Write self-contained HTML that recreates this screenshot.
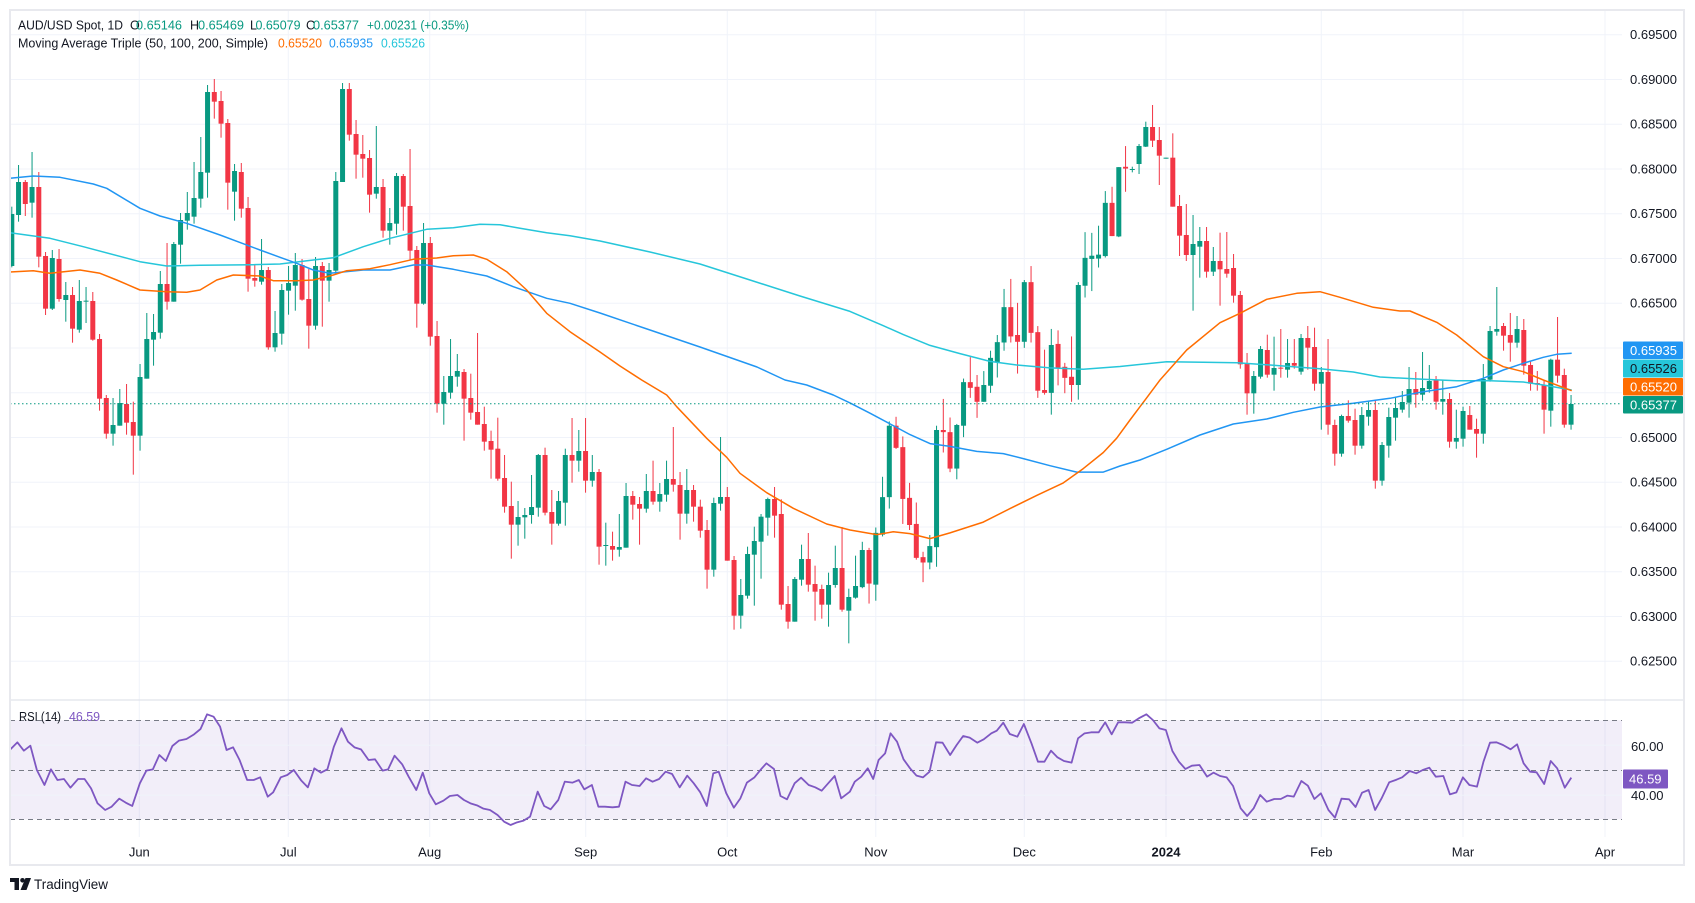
<!DOCTYPE html>
<html><head><meta charset="utf-8">
<style>
html,body{margin:0;padding:0;background:#fff;width:1695px;height:903px;overflow:hidden;}
svg{position:absolute;left:0;top:0;}
text{font-family:"Liberation Sans",Arial,sans-serif;}
</style></head><body>
<svg id="c" width="1695" height="903" viewBox="0 0 1695 903" xmlns="http://www.w3.org/2000/svg">
<defs><clipPath id="pc"><rect x="10" y="10" width="1612" height="690"/></clipPath>
<clipPath id="rc"><rect x="10" y="700" width="1612" height="140"/></clipPath></defs>
<rect x="0" y="0" width="1695" height="903" fill="#fff"/>
<!-- horizontal grid price -->
<g stroke="#f0f3fa" stroke-width="1">
<line x1="10" x2="1622" y1="34.7" y2="34.7"/><line x1="10" x2="1622" y1="79.45" y2="79.45"/>
<line x1="10" x2="1622" y1="124.2" y2="124.2"/><line x1="10" x2="1622" y1="168.95" y2="168.95"/>
<line x1="10" x2="1622" y1="213.7" y2="213.7"/><line x1="10" x2="1622" y1="258.45" y2="258.45"/>
<line x1="10" x2="1622" y1="303.2" y2="303.2"/><line x1="10" x2="1622" y1="347.95" y2="347.95"/>
<line x1="10" x2="1622" y1="392.7" y2="392.7"/><line x1="10" x2="1622" y1="437.45" y2="437.45"/>
<line x1="10" x2="1622" y1="482.2" y2="482.2"/><line x1="10" x2="1622" y1="526.95" y2="526.95"/>
<line x1="10" x2="1622" y1="571.7" y2="571.7"/><line x1="10" x2="1622" y1="616.45" y2="616.45"/>
<line x1="10" x2="1622" y1="661.2" y2="661.2"/>
<!-- vertical grid -->
<line x1="139.3" x2="139.3" y1="10" y2="837"/><line x1="288.3" x2="288.3" y1="10" y2="837"/>
<line x1="429.7" x2="429.7" y1="10" y2="837"/><line x1="585.7" x2="585.7" y1="10" y2="837"/>
<line x1="727.3" x2="727.3" y1="10" y2="837"/><line x1="875.8" x2="875.8" y1="10" y2="837"/>
<line x1="1024.3" x2="1024.3" y1="10" y2="837"/><line x1="1166" x2="1166" y1="10" y2="837"/>
<line x1="1321.3" x2="1321.3" y1="10" y2="837"/><line x1="1463" x2="1463" y1="10" y2="837"/>
<line x1="1605" x2="1605" y1="10" y2="837"/>
</g>
<!-- RSI pane -->
<rect x="10" y="720.3" width="1612" height="99" fill="#7e57c2" fill-opacity="0.1"/>
<g stroke="#f0f3fa" stroke-width="1"><line x1="10" x2="1622" y1="745.3" y2="745.3"/><line x1="10" x2="1622" y1="795.3" y2="795.3"/></g>
<g stroke="#787b86" stroke-width="1" stroke-dasharray="5 4">
<line x1="10" x2="1622" y1="720.5" y2="720.5"/><line x1="10" x2="1622" y1="770.5" y2="770.5"/><line x1="10" x2="1622" y1="819.5" y2="819.5"/>
</g>
<line x1="10" x2="1684" y1="700" y2="700" stroke="#e0e3eb" stroke-width="1.2"/>
<g id="dyn"></g>
<!-- current price dotted -->
<line x1="10" x2="1622" y1="403.7" y2="403.7" stroke="#089981" stroke-width="1" stroke-dasharray="1.5 2.5"/>
<!-- frame -->
<rect x="10" y="10" width="1674" height="855" fill="none" stroke="#e8e9ee" stroke-width="2"/>
<!-- price axis labels -->
<g font-size="13" fill="#131722">
<text x="1630" y="39.2">0.69500</text><text x="1630" y="84">0.69000</text>
<text x="1630" y="128.7">0.68500</text><text x="1630" y="173.5">0.68000</text>
<text x="1630" y="218.2">0.67500</text><text x="1630" y="263">0.67000</text>
<text x="1630" y="307.7">0.66500</text><text x="1630" y="442">0.65000</text>
<text x="1630" y="486.7">0.64500</text><text x="1630" y="531.5">0.64000</text>
<text x="1630" y="576.2">0.63500</text><text x="1630" y="621">0.63000</text>
<text x="1630" y="665.7">0.62500</text>
<text x="1631" y="751">60.00</text><text x="1631" y="800">40.00</text>
</g>
<!-- badges -->
<rect x="1623" y="341.5" width="60" height="17.5" fill="#2196f3" rx="1"/>
<text x="1630" y="355" font-size="13" fill="#fff">0.65935</text>
<rect x="1623" y="359.5" width="60" height="18" fill="#26c6da" rx="1"/>
<text x="1630" y="373.2" font-size="13" fill="#131722">0.65526</text>
<rect x="1623" y="378" width="60" height="17.5" fill="#ff6d00" rx="1"/>
<text x="1630" y="391.5" font-size="13" fill="#fff">0.65520</text>
<rect x="1623" y="396" width="60" height="17.5" fill="#089981" rx="1"/>
<text x="1630" y="409.5" font-size="13" fill="#fff">0.65377</text>
<rect x="1623" y="769.5" width="45" height="19" fill="#7e57c2" rx="1"/>
<text x="1629" y="783.5" font-size="13" fill="#fff">46.59</text>
<!-- time axis -->
<g font-size="13" fill="#131722" text-anchor="middle">
<text x="139.3" y="856.5">Jun</text><text x="288.3" y="856.5">Jul</text>
<text x="429.7" y="856.5">Aug</text><text x="585.7" y="856.5">Sep</text>
<text x="727.3" y="856.5">Oct</text><text x="875.8" y="856.5">Nov</text>
<text x="1024.3" y="856.5">Dec</text><text x="1166" y="856.5" font-weight="bold">2024</text>
<text x="1321.3" y="856.5">Feb</text><text x="1463" y="856.5">Mar</text>
<text x="1605" y="856.5">Apr</text>
</g>
<!-- header -->
<g font-size="12.5">
<text x="18" y="29.5" fill="#131722" textLength="105" lengthAdjust="spacingAndGlyphs">AUD/USD Spot, 1D</text>
<text x="130" y="29.5" fill="#131722">O</text><text x="136" y="29.5" fill="#089981" textLength="46" lengthAdjust="spacingAndGlyphs">0.65146</text>
<text x="190" y="29.5" fill="#131722">H</text><text x="198" y="29.5" fill="#089981" textLength="46" lengthAdjust="spacingAndGlyphs">0.65469</text>
<text x="250" y="29.5" fill="#131722">L</text><text x="255.5" y="29.5" fill="#089981" textLength="45" lengthAdjust="spacingAndGlyphs">0.65079</text>
<text x="306" y="29.5" fill="#131722">C</text><text x="313" y="29.5" fill="#089981" textLength="46" lengthAdjust="spacingAndGlyphs">0.65377</text>
<text x="367" y="29.5" fill="#089981" textLength="102" lengthAdjust="spacingAndGlyphs">+0.00231 (+0.35%)</text>
<text x="18" y="47.5" fill="#131722" textLength="250" lengthAdjust="spacingAndGlyphs">Moving Average Triple (50, 100, 200, Simple)</text>
<text x="278" y="47.5" fill="#ff6d00" textLength="44" lengthAdjust="spacingAndGlyphs">0.65520</text>
<text x="329" y="47.5" fill="#2196f3" textLength="44" lengthAdjust="spacingAndGlyphs">0.65935</text>
<text x="381" y="47.5" fill="#26c6da" textLength="44" lengthAdjust="spacingAndGlyphs">0.65526</text>
<text x="19" y="721" fill="#131722" textLength="42" lengthAdjust="spacingAndGlyphs">RSI (14)</text>
<text x="69" y="721" fill="#7e57c2" textLength="31" lengthAdjust="spacingAndGlyphs">46.59</text>
</g>
<!-- TradingView logo -->
<g fill="#131722">
<rect x="10" y="878" width="9" height="4"/><rect x="14.5" y="878" width="4.5" height="12"/>
<circle cx="22.5" cy="880.3" r="2.3"/><polygon points="25.5,878 31,878 26.5,890 20.5,890"/>
<text x="34" y="889" font-size="13.5" textLength="74" lengthAdjust="spacingAndGlyphs">TradingView</text>
</g>
</svg>
<script>
(function(){
var C=[
[60,3,1,[[1,462,618,440,622],[1,366,465,315,485],[0,366,432,360,468],[1,381,428,276,473],[0,381,590,336,622],[0,588,746,576,765],[1,594,746,570,750],[0,597,717,567,725],[1,705,720,666,785],[0,705,806,681,848],[1,723,809,660,818],[1,722,725,681,789],[0,723,839,696,842],[0,837,1016,822,1052],[0,1014,1121,1005,1136],[1,1095,1121,1014,1157],[1,1029,1097,987,1097],[0,1032,1088,972,1124],[0,1086,1127,1025,1244],[1,951,1127,912,1172],[1,837,956,759,956],[1,816,839,762,917],[1,672,818,633,836],[0,672,725,549,749],[1,552,725,546,725],[1,480,554,459,611],[1,459,482,396,509],[1,414,470,306,491],[1,336,416,231,443],[1,96,338,75,413],[0,96,125,57,176],[0,123,191,93,233],[0,189,368,177,449],[1,333,395,312,482],[0,336,446,309,473],[0,444,656,411,695],[0,654,662,612,680],[1,630,665,537,674],[0,630,862,621,869],[1,819,862,753,875],[1,690,821,672,854],[1,669,692,618,764]]],
[60,3,43,[[1,615,677,579,752],[0,615,719,597,722],[0,717,797,627,866],[1,618,797,591,809],[0,618,662,606,800],[1,630,662,609,725],[1,363,632,336,641],[1,87,366,69,366],[0,87,224,69,242],[0,222,284,180,356],[0,282,296,225,353],[0,294,404,270,458],[1,381,401,198,416],[0,381,512,357,533],[1,489,512,444,554],[1,348,491,339,524],[0,348,440,342,512],[0,438,572,267,599],[0,570,731,558,803],[1,549,731,489,734],[0,549,830,531,857],[0,828,1031,783,1058],[1,996,1031,948,1094],[1,948,998,837,1016],[1,933,950,882,980],[0,936,1016,927,1142],[0,1014,1058,941,1079],[0,1056,1094,819,1094],[0,1092,1145,1040,1172],[0,1143,1169,1112,1256],[0,1166,1256,1073,1262],[0,1254,1340,1185,1358],[0,1338,1394,1265,1496],[1,1371,1394,1323,1457],[1,1365,1372,1344,1436],[1,1341,1365,1245,1391],[1,1185,1343,1182,1370],[0,1185,1358,1163,1366],[0,1356,1391,1290,1454],[1,1323,1391,1293,1397],[1,1185,1328,1166,1397]]],
[380,3,84,[[0,225,242,114,308],[1,213,242,150,275],[0,213,302,114,338],[1,276,302,225,320],[0,276,500,267,554],[1,495,498,428,557],[0,498,509,455,542],[1,501,509,402,530],[1,348,503,309,503],[0,348,374,333,419],[0,372,386,351,494],[1,333,386,282,398],[0,333,365,242,374],[1,342,365,309,395],[1,297,344,242,365],[0,297,314,141,335],[0,315,401,276,479],[1,330,401,267,431],[0,330,380,315,425],[0,380,452,359,473],[0,450,569,420,626],[1,369,569,353,590],[1,351,371,171,392],[0,351,542,321,542],[0,540,707,528,749],[1,645,707,597,746],[1,522,647,500,656],[1,483,524,440,677],[1,410,485,402,596],[1,357,413,353,467],[0,357,407,321,473],[0,402,674,358,689],[0,672,725,618,746],[1,597,725,591,725],[1,537,599,494,617],[0,537,614,459,635],[0,612,635,557,722],[0,627,674,614,716],[1,615,674,578,740],[1,564,615,497,623],[0,564,689,441,695],[1,651,692,626,790],[1,618,653,527,656]]],
[90,2.8,127,[[1,1288,1392,1265,1395],[0,1288,1382,1282,1438],[1,1240,1385,1225,1430],[1,1140,1245,1083,1250],[1,940,1140,928,1172],[0,940,1002,915,1005],[0,1000,1145,970,1215],[0,1142,1218,1100,1232],[0,1215,1310,1155,1315],[0,1308,1323,1293,1378],[1,1277,1323,1246,1342],[1,952,1280,940,1335],[0,952,958,865,1015],[0,958,1060,917,1070],[1,938,1060,935,1090],[1,818,940,808,972],[0,818,834,748,862],[0,831,873,798,918],[1,826,873,787,873],[1,750,828,730,848],[1,706,763,686,805],[1,608,707,557,730],[0,608,690,529,707],[0,686,705,596,794],[1,538,705,532,722],[0,538,680,493,707],[0,678,842,661,862],[0,840,848,727,853],[1,714,848,669,909],[0,711,777,673,827],[0,775,806,764,849],[0,803,826,690,873],[1,546,826,538,867],[1,470,548,398,581],[1,464,473,400,563],[1,461,472,380,497],[1,316,465,283,469],[0,316,409,271,409],[1,216,410,216,412],[0,215,220,157,285]]],
[95,3,167,[[1,222,224,215,232],[1,153,207,147,237],[1,96,155,80,156],[0,96,137,30,156],[0,135,182,96,270],[1,188,190,188,190],[0,188,335,115,335]]],
[180,3,174,[[0,78,167,45,228],[0,165,225,72,243],[1,192,225,105,392],[1,183,200,141,293],[0,183,275,141,293],[1,243,275,201,288],[0,243,268,158,377],[0,267,281,156,293],[0,264,347,222,368],[0,345,553,333,566],[0,551,640,519,704],[1,588,640,573,701],[1,507,590,498,596],[0,510,584,464,593],[1,564,584,470,632],[0,563,566,447,593],[1,549,569,477,593],[0,549,557,477,566],[1,474,575,462,584],[0,474,503,438,569],[0,501,611,443,632],[1,576,611,561,749],[0,576,734,477,764],[0,735,821,719,857],[1,708,821,704,830],[0,708,722,661,728],[0,720,797,686,824],[1,705,797,681,806],[1,690,710,664,737],[0,690,902,659,926],[1,795,902,786,917],[1,711,797,683,833],[1,684,713,650,782]]],
[270,3,207,[[1,396,419,363,428],[1,357,398,291,443],[0,357,374,306,413],[1,354,374,246,392],[1,333,357,285,368],[0,330,395,318,419],[1,387,395,330,434],[0,387,515,369,533],[1,504,515,419,536],[1,423,506,410,530],[0,435,479,408,479],[0,477,491,446,563],[1,327,491,282,521],[1,183,329,168,335],[1,177,185,51,197],[0,168,197,159,242],[0,195,218,129,275],[1,177,218,138,233],[0,180,287,147,314],[0,285,341,273,362],[0,339,344,303,362],[0,345,419,330,491],[1,269,422,266,470],[0,269,317,141,338],[0,315,464,296,473],[1,402,464,375,479]]]
];
var s='<g clip-path="url(#pc)">';
for(var g=0;g<C.length;g++){var y0=C[g][0],sy=C[g][1],st=C[g][2],a=C[g][3];
 for(var k=0;k<a.length;k++){var d=a[k],i=st+k,x=5.05+6.75*i,col=d[0]?'#089981':'#f23645';
  var bt=y0+d[1]/sy,bb=y0+d[2]/sy,wt=y0+d[3]/sy,wb=y0+d[4]/sy;
  if(bb-bt<1){bb=bt+1;}
  s+='<rect x="'+(x-0.5).toFixed(2)+'" y="'+wt.toFixed(2)+'" width="1" height="'+Math.max(1,wb-wt).toFixed(2)+'" fill="'+col+'"/>';
  s+='<rect x="'+(x-2.5).toFixed(2)+'" y="'+bt.toFixed(2)+'" width="5" height="'+(bb-bt).toFixed(2)+'" fill="'+col+'"/>';
 }}
function pl(p,c,w){var t='';for(var i=0;i<p.length;i+=2){t+=p[i]+','+p[i+1]+' ';}return '<polyline points="'+t+'" fill="none" stroke="'+c+'" stroke-width="'+w+'" stroke-linejoin="round"/>';}
var OR=[10,272,33.3,270.7,50,273.3,80,270,100,273.3,116.7,280,140,290,166.7,291.7,186.7,292.3,200,290,216.7,280,233.3,275,260,276,273.3,280.7,296.7,280.7,313.3,280,333.3,275,346.7,270.7,370,268.7,390,264.7,413.3,259.3,436.7,258,453.3,255.7,473.3,255,486.7,259.3,506.7,271.7,526.7,290,546.7,313.3,570,331.7,600,352,620,366,641.7,380,666.7,395,676.7,406.7,706.7,438.3,726.7,457.3,740,473.3,766.7,492.7,793.3,508.3,826.7,524,850,530,876.7,534.6,893.3,531.8,910,533.6,930,538.6,950,532.9,983.3,522.1,1010,508.6,1036.7,495.4,1063.3,482.9,1083.3,468.6,1103.3,452.5,1116.7,438.2,1130,420,1140,406.7,1160,380,1186.7,350,1220,322.7,1240,313.3,1266.7,299.3,1296.7,293.3,1320,291.7,1340,297.3,1373.3,307.3,1400,311,1410,311,1436.7,322.3,1456.7,335,1483.3,356.7,1503.3,366.7,1523.3,371.7,1543.3,380,1571.7,390.7];
var CY=[10,232.7,50,238.3,83.3,246.7,140,261.7,166.7,266,200,265.3,253.3,264.7,280,264,313.3,260,333.3,257.7,363.3,246.7,390,238.3,426.7,229.3,453.3,227.7,480,224.3,500,224.7,520,228.3,546.7,232.7,570,235.7,600,241,650,252,700,264,750,280,800,296,850,311.4,883.3,325.7,903.3,334.6,930,345.4,960,353.6,990,361.4,1016.7,365,1050,367.9,1083.3,369.3,1120,366.5,1166.7,361.7,1203.3,362.3,1236.7,362.7,1270,365,1293.3,366.7,1320,368.7,1353.3,372,1380,377,1423.3,379.3,1456.7,380.7,1490,380.7,1523.3,382,1543.3,385,1571.7,390];
var BL=[10,178.3,33.3,176,60,177.3,93.3,184,106.7,188.3,140,208.3,160,216,186.7,223.3,220,235,260,250,280,257.3,296.7,263.3,313.3,270,330,273.3,363.3,270,390,270,413.3,265,426.7,265,453.3,269.3,486.7,276,513.3,286.7,546.7,298.3,570,303.3,600,313,650,330,700,347,757,367,785,380,806.7,385,833.3,395,850,402.9,870,413.2,890,423.9,910,434.6,930,443.6,950,446.4,976.7,451.4,1003.3,453.6,1023.3,458.6,1050,465.7,1076.7,472.1,1103.3,472.1,1120,466,1140,460,1166.7,449.3,1200,435,1233.3,424,1266.7,419,1293.3,412.3,1320,407,1353.3,403.3,1390,398.3,1423.3,391.7,1456.7,386.7,1483.3,378.3,1503.3,370,1523.3,363.3,1543.3,357.3,1556.7,354.3,1571.7,353.3];
s+=pl(CY,'#26c6da',1.5)+pl(BL,'#2196f3',1.5)+pl(OR,'#ff6d00',1.5)+'</g>';
var R1=[18,150,32,127,44,152,56,137,68,210,82,255,94,208,106,240,118,237,130,263,144,237,156,237,168,265,180,310,194,330,206,320,220,296,232,308,244,318,258,250,270,212,282,208,294,165,306,183,318,138,330,122,344,117,358,103,370,87,382,43,394,50,406,80,418,150,430,142,442,180,456,240,468,240,480,232,494,290,504,277,518,232,530,225,542,210,556,242,568,262,580,205,592,218,604,208,616,140,630,85,642,125,654,142,666,148,680,180,692,178,706,212,716,208,728,167,742,193,754,230,768,270,780,218,792,280,804,313,818,302,830,288,844,285,856,300,868,310,880,316,892,326,904,330,918,345,930,365,942,375,954,367,966,362,978,350,992,275,1004,318,1016,328,1030,300,1042,245,1056,248,1068,240,1078,268,1092,255,1104,320,1116,320,1130,322,1142,320,1154,245,1166,255,1180,258,1192,235,1204,245,1216,237,1228,215,1240,222,1254,262,1268,227,1280,250,1292,277,1304,318,1316,220,1326,215,1340,280,1354,323,1366,295,1378,248,1392,232,1404,208,1414,190,1428,207,1440,288,1452,298,1466,250,1478,233,1492,255,1504,262,1516,272,1528,250,1540,228,1552,295,1568,275];
var R2=[18,245,30,230,42,205,52,237,62,180,74,160,84,100,96,125,108,178,120,205,132,227,144,232,156,215,168,127,180,128,194,165,206,135,218,108,230,113,244,128,256,118,270,100,280,92,292,68,304,102,318,110,330,72,344,130,356,185,368,185,380,152,392,172,404,183,418,188,430,115,442,100,454,97,468,97,480,67,492,103,504,67,516,67,530,68,542,55,556,43,568,60,580,85,592,90,604,153,616,185,628,207,640,197,654,195,668,230,680,218,692,228,704,232,716,258,730,325,742,348,754,325,766,285,778,305,792,297,804,297,816,287,828,290,842,243,854,257,866,297,878,280,892,330,904,353,916,296,930,298,942,321,954,278,966,270,978,330,990,295,1004,247,1016,240,1028,232,1042,213,1054,220,1066,210,1078,203,1090,230,1104,228,1116,283,1128,277,1140,232,1152,255,1166,260,1178,185,1190,128,1202,127,1214,135,1228,148,1240,133,1252,190,1264,215,1276,217,1290,252,1302,183,1314,205,1328,263,1340,233];
var R=[];
for(var i=0;i<R1.length;i+=2){R.push((R1[i]/1.845).toFixed(2),(700+R1[i+1]/3).toFixed(2));}
for(var i=0;i<R2.length;i+=2){R.push((845+R2[i]/1.845).toFixed(2),(700+R2[i+1]/3).toFixed(2));}
s+=pl(R,'#7e57c2',1.8);
document.getElementById('dyn').innerHTML=s;
})();
</script>
</body></html>
